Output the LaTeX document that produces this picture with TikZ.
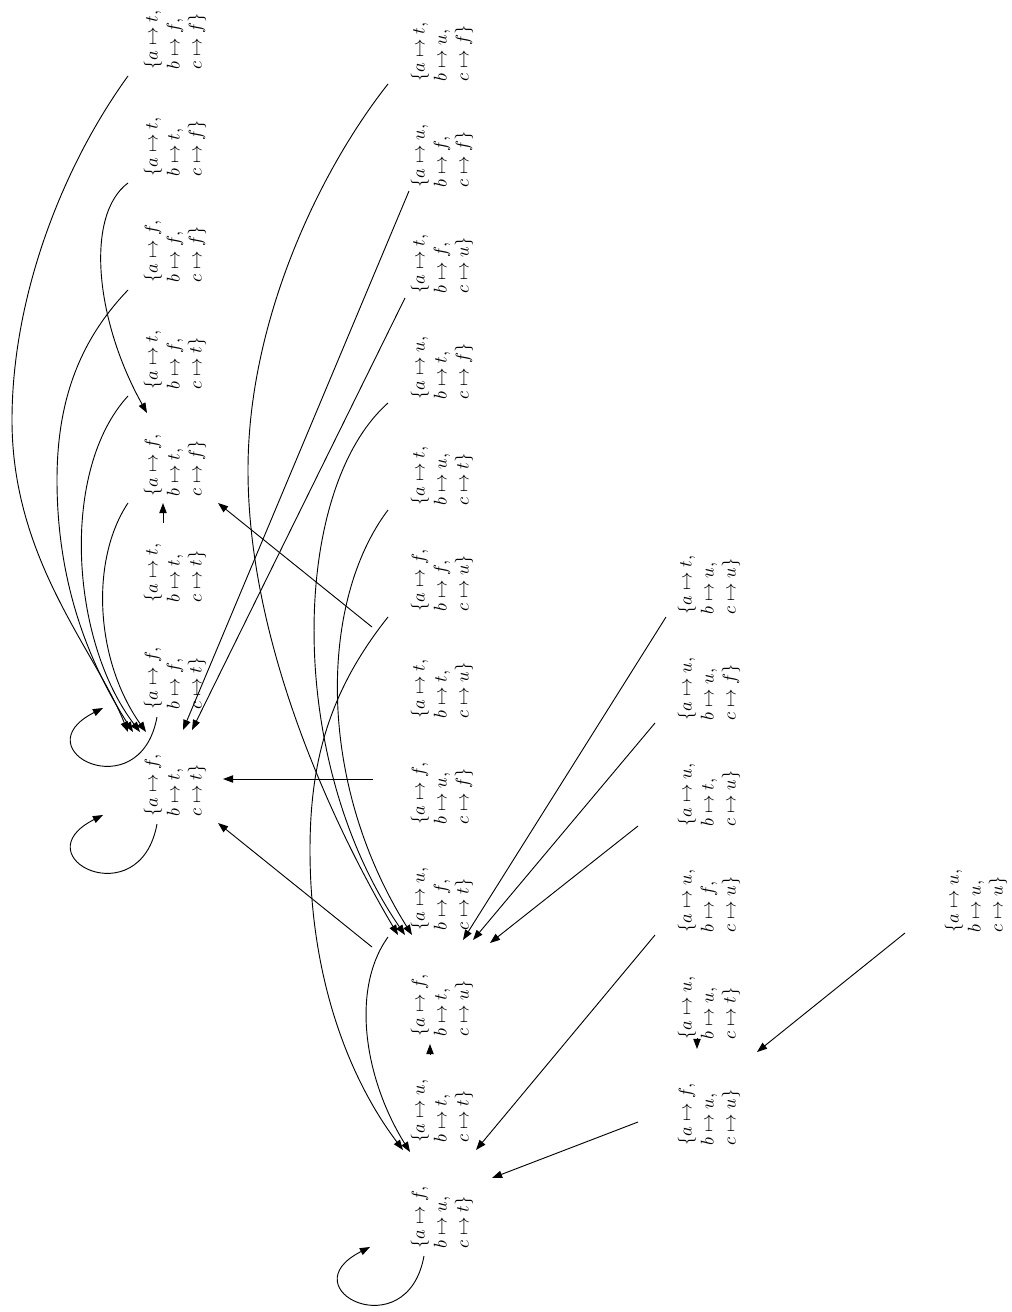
\documentclass[tikz,border=0pt]{standalone}
\usetikzlibrary{arrows.meta,calc}
\newcommand\valtext[3]{$\{a\mapsto #1,$\\$b\mapsto #2,$\\$c\mapsto #3\}$}
\begin{document}
\begin{tikzpicture}[x=0.543pt,y=-0.543pt,
  val/.style={rotate=90,anchor=west,align=left,inner sep=0pt,font=\fontsize{10pt}{12pt}\selectfont},
  edge/.style={line width=0.5pt,-{Triangle[length=5.5pt,width=4pt]}}]
\useasboundingbox (0,0) rectangle (1011,1312);
% column A
\node[val] (tff) at (175,70)  {\valtext{t}{f}{f}};
\node[val] (ttf) at (175,177) {\valtext{t}{t}{f}};
\node[val] (fff) at (175,283) {\valtext{f}{f}{f}};
\node[val] (tft) at (175,390) {\valtext{t}{f}{t}};
\node[val] (ftf) at (175,497) {\valtext{f}{t}{f}};
\node[val] (ttt) at (175,603) {\valtext{t}{t}{t}};
\node[val] (fft) at (175,710) {\valtext{f}{f}{t}};
\node[val] (ftt) at (175,817) {\valtext{f}{t}{t}};
% column B
\node[val] (tuf) at (442,82)   {\valtext{t}{u}{f}};
\node[val] (uff) at (442,188)  {\valtext{u}{f}{f}};
\node[val] (tfu) at (442,294)  {\valtext{t}{f}{u}};
\node[val] (utf) at (442,400)  {\valtext{u}{t}{f}};
\node[val] (tut) at (442,506)  {\valtext{t}{u}{t}};
\node[val] (ffu) at (442,612)  {\valtext{f}{f}{u}};
\node[val] (ttu) at (442,719)  {\valtext{t}{t}{u}};
\node[val] (fuf) at (442,825)  {\valtext{f}{u}{f}};
\node[val] (uft) at (442,931)  {\valtext{u}{f}{t}};
\node[val] (ftu) at (442,1037) {\valtext{f}{t}{u}};
\node[val] (utt) at (442,1143) {\valtext{u}{t}{t}};
\node[val] (fut) at (442,1249) {\valtext{f}{u}{t}};
% column C
\node[val] (tuu) at (709,615)  {\valtext{t}{u}{u}};
\node[val] (uuf) at (709,721)  {\valtext{u}{u}{f}};
\node[val] (utu) at (709,827)  {\valtext{u}{t}{u}};
\node[val] (ufu) at (709,933)  {\valtext{u}{f}{u}};
\node[val] (uut) at (709,1040) {\valtext{u}{u}{t}};
\node[val] (fuu) at (709,1146) {\valtext{f}{u}{u}};
% column D
\node[val] (uuu) at (976,933)  {\valtext{u}{u}{u}};

% edges into ftt / ftf from column A
\draw[edge] ([shift={(-47,6)}]tff.west) .. controls (60,170) and (12,300) .. (12,420) .. controls (12,560) and (95,650) .. ([shift={(-47,-85)}]ftt.west);
\draw[edge] ([shift={(-47,6)}]ttf.west) .. controls (85,215) and (95,320) .. ([shift={(-28,-84)}]ftf.west);
\draw[edge] ([shift={(-47,7)}]fff.west) .. controls (80,340) and (57,400) .. (57,480) .. controls (57,600) and (100,680) .. ([shift={(-42,-85)}]ftt.west);
\draw[edge] ([shift={(-47,6)}]tft.west) .. controls (60,470) and (70,640) .. ([shift={(-35,-85)}]ftt.west);
\draw[edge] ([shift={(-47,6)}]ftf.west) .. controls (90,560) and (95,660) .. ([shift={(-29,-85)}]ftt.west);
\draw[edge] ([shift={(-12,-80)}]ttt.west) -- ([shift={(-12,6)}]ftf.west);
\draw[edge] ([shift={(-18,7)}]fft.west) .. controls +(-17,93) and +(-83,42) .. ([shift={(-72,-2)}]fft.west);
\draw[edge] ([shift={(-18,7)}]ftt.west) .. controls +(-17,93) and +(-83,42) .. ([shift={(-72,-2)}]ftt.west);
% column B
\draw[edge] ([shift={(-33,3)}]uff.west) -- ([shift={(8,-87)}]ftt.west);
\draw[edge] ([shift={(-37,4)}]tfu.west) -- ([shift={(17,-87)}]ftt.west);
\draw[edge] ([shift={(-69,-46)}]fuf.west) -- ([shift={(48,-38)}]ftt.west);
\draw[edge] ([shift={(-70,-90)}]ftu.west) -- ([shift={(43,6)}]ftt.west);
\draw[edge] ([shift={(-70,-92)}]ttu.west) -- ([shift={(43,6)}]ftf.west);
\draw[edge] ([shift={(-54,2)}]tuf.west) .. controls (320,170) and (248,320) .. (248,470) .. controls (248,640) and (330,820) .. ([shift={(-44,-102)}]ftu.west);
\draw[edge] ([shift={(-54,3)}]utf.west) .. controls (290,490) and (285,760) .. ([shift={(-37,-102)}]ftu.west);
\draw[edge] ([shift={(-54,4)}]tut.west) .. controls (320,600) and (315,780) .. ([shift={(-30,-102)}]ftu.west);
\draw[edge] ([shift={(-54,5)}]ffu.west) .. controls (330,690) and (310,760) .. (310,850) .. controls (310,980) and (350,1080) .. ([shift={(-39,-99)}]fut.west);
\draw[edge] ([shift={(-54,6)}]uft.west) .. controls (350,990) and (365,1080) .. ([shift={(-32,-97)}]fut.west);
\draw[edge] ([shift={(-12,-88)}]utt.west) -- ([shift={(-12,7)}]ftu.west);
\draw[edge] ([shift={(-18,7)}]fut.west) .. controls +(-17,93) and +(-83,42) .. ([shift={(-72,-2)}]fut.west);
% column C
\draw[edge] ([shift={(-43,2)}]tuu.west) -- ([shift={(21,-97)}]ftu.west);
\draw[edge] ([shift={(-54,2)}]uuf.west) -- ([shift={(31,-97)}]ftu.west);
\draw[edge] ([shift={(-71,-1)}]utu.west) -- ([shift={(48,-94)}]ftu.west);
\draw[edge] ([shift={(-54,2)}]ufu.west) -- ([shift={(34,-99)}]fut.west);
\draw[edge] ([shift={(-71,-24)}]fuu.west) -- ([shift={(50,-71)}]fut.west);
\draw[edge] ([shift={(-12,-2)}]uut.west) -- ([shift={(-12,-97)}]fuu.west);
% column D
\draw[edge] ([shift={(-71,0)}]uuu.west) -- ([shift={(48,-94)}]fuu.west);
\end{tikzpicture}
\end{document}
